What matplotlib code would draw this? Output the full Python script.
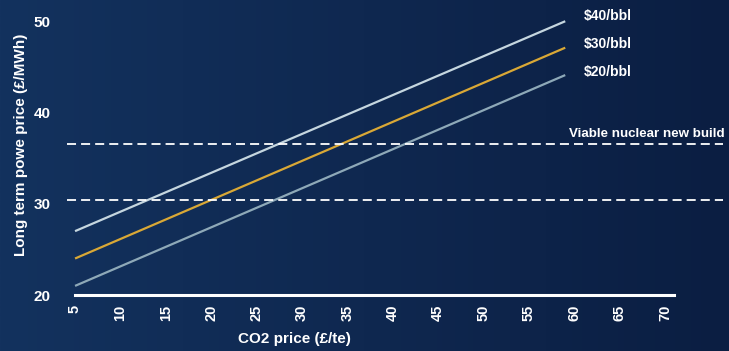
import numpy as np
import matplotlib.pyplot as plt

# CO2 price (GBP/te) at start and end of each line
co2 = [5, 59]
oil_40 = [27, 50]
oil_30 = [24, 47.1]
oil_20 = [21, 44.1]
series_labels = ["$40/bbl", "$30/bbl", "$20/bbl"]
nuclear_low = 30.4
nuclear_high = 36.5
xticks = list(range(5, 75, 5))
yticks = [20, 30, 40, 50]

plt.rcParams['font.family'] = ['Liberation Sans', 'DejaVu Sans']

fig = plt.figure(figsize=(7.29, 3.51), dpi=100)

# gradient background
bg = fig.add_axes([0, 0, 1, 1], zorder=-1)
left = np.array([19, 50, 94]) / 255
right = np.array([11, 30, 66]) / 255
t = np.linspace(0, 1, 256)[None, :, None]
grad = left + (right - left) * t
bg.imshow(grad, aspect='auto', extent=[0, 1, 0, 1])
bg.axis('off')

ax = fig.add_axes([0.0905, 0.1595, 0.909, 0.806])
ax.patch.set_alpha(0)

ax.plot(co2, oil_40, color='#c5d6df', lw=1.6, solid_capstyle='butt')
ax.plot(co2, oil_30, color='#d9a836', lw=1.6, solid_capstyle='butt')
ax.plot(co2, oil_20, color='#8ea9b8', lw=1.6, solid_capstyle='butt')

for yv in [nuclear_low, nuclear_high]:
    ax.plot([4.1, 76.4], [yv, yv], color='white', lw=1.3, dashes=(5, 2.8))

for lab, yv in zip(series_labels, [50.6, 47.5, 44.4]):
    ax.text(61, yv, lab, color='white', fontsize=10, fontweight='bold',
            va='center', ha='left')
ax.text(76.6, 37.6, "Viable nuclear new build", color='white', fontsize=9.6,
        fontweight='bold', va='center', ha='right')

ax.set_xlim(4, 77)
ax.set_ylim(20, 51)
ax.set_xticks(xticks)
ax.set_yticks(yticks)
ax.set_xticklabels([str(v) for v in xticks], rotation=90, fontsize=10.5,
                   fontweight='bold', color='white')
ax.set_yticklabels([str(v) for v in yticks], fontsize=11,
                   fontweight='bold', color='white')
ax.tick_params(axis='both', length=0)
ax.tick_params(axis='x', pad=7)
ax.tick_params(axis='y', pad=11)

for s in ['top', 'right', 'left']:
    ax.spines[s].set_visible(False)
ax.spines['bottom'].set_color('white')
ax.spines['bottom'].set_linewidth(2.2)
ax.spines['bottom'].set_bounds(5, 71)

ax.set_xlabel("CO2 price (\u00a3/te)", color='white', fontsize=11,
              fontweight='bold')
ax.xaxis.set_label_coords(0.345, -0.13)
ax.set_ylabel("Long term powe price (\u00a3/MWh)", color='white',
              fontsize=11, fontweight='bold')
ax.yaxis.set_label_coords(-0.058, 0.53)

fig.savefig("out.png", dpi=100)
